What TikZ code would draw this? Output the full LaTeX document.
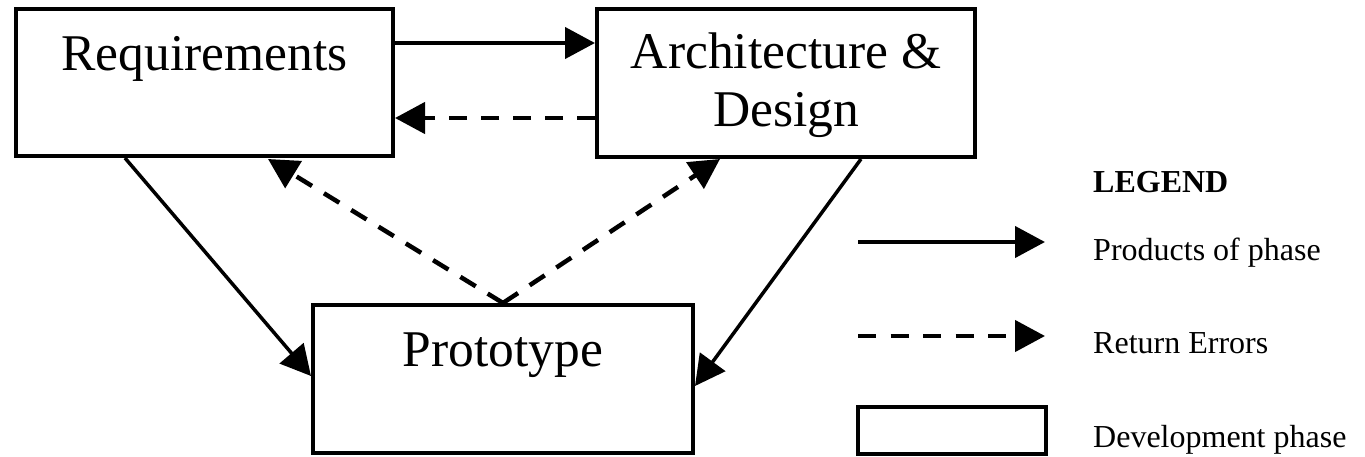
\documentclass[tikz,border=0pt]{standalone}
\usepackage{fontspec}
\setmainfont{Liberation Serif}
\usetikzlibrary{arrows.meta,calc}
\tikzset{
  phase/.style={draw=black, line width=4pt, fill=white, inner sep=0pt},
  bigtext/.style={font=\fontsize{51.5}{59}\selectfont, inner sep=0pt, anchor=base},
  legtext/.style={font=\fontsize{32}{38}\selectfont, inner sep=0pt, anchor=base west},
  prod/.style={line width=4.3pt, -{Triangle[length=30pt,width=31pt]}},
  rerr/.style={line width=4.5pt, dash pattern=on 18pt off 14pt, -{Triangle[length=30pt,width=31pt]}},
}
\begin{document}
\begin{tikzpicture}[x=1pt,y=-1pt]
\useasboundingbox (0,0) rectangle (1365,456);
% phase boxes
\node[phase, minimum width=377pt, minimum height=147pt] (req) at (204.5,82.5) {};
\node[phase, minimum width=378pt, minimum height=148pt] (arch) at (786,83) {};
\node[phase, minimum width=380pt, minimum height=148pt] (proto) at (503,379) {};
% labels
\node[bigtext] (reqt) at ($(req.north)+(0,63)$) {Requirements};
\node[bigtext] (archt1) at ($(arch.north)+(0,61)$) {Architecture \&};
\node[bigtext] (archt2) at ($(arch.north)+(0,119)$) {Design};
\node[bigtext] (protot) at ($(proto.north)+(0,63)$) {Prototype};
% connectors
\draw[prod] ($(req.north east)+(0,36)$) -- ($(arch.north west)+(0,36)$);
\draw[rerr] ($(arch.north west)+(0,111)$) -- ($(req.north east)+(0,111)$);
\draw[prod, line width=3.5pt] ($(req.south west)+(111,0)$) -- ($(proto.north west)+(0,73)$);
\draw[prod, line width=3.5pt] ($(arch.south west)+(266,0)$) -- ($(proto.north east)+(0,83)$);
\draw[rerr] (proto.north) -- ($(req.south west)+(254,1)$);
\draw[rerr] (proto.north) -- ($(arch.south west)+(125,0)$);
% legend
\node[font=\fontsize{32}{38}\selectfont\bfseries, inner sep=0pt, anchor=base west] (leg) at (1093,192) {LEGEND};
\coordinate (l1a) at (858,242);
\coordinate (l1b) at (1045,242);
\coordinate (l2a) at (858,336);
\coordinate (l2b) at (1045,336);
\draw[prod] (l1a) -- (l1b);
\draw[rerr, dash pattern=on 18pt off 14.5pt] (l2a) -- (l2b);
\node[phase, minimum width=188pt, minimum height=47pt] (legbox) at (952,430.5) {};
\node[legtext] (lt1) at (1093,260) {Products of phase};
\node[legtext] (lt2) at (1093,353) {Return Errors};
\node[legtext] (lt3) at (1093,447) {Development phase};
\end{tikzpicture}
\end{document}
